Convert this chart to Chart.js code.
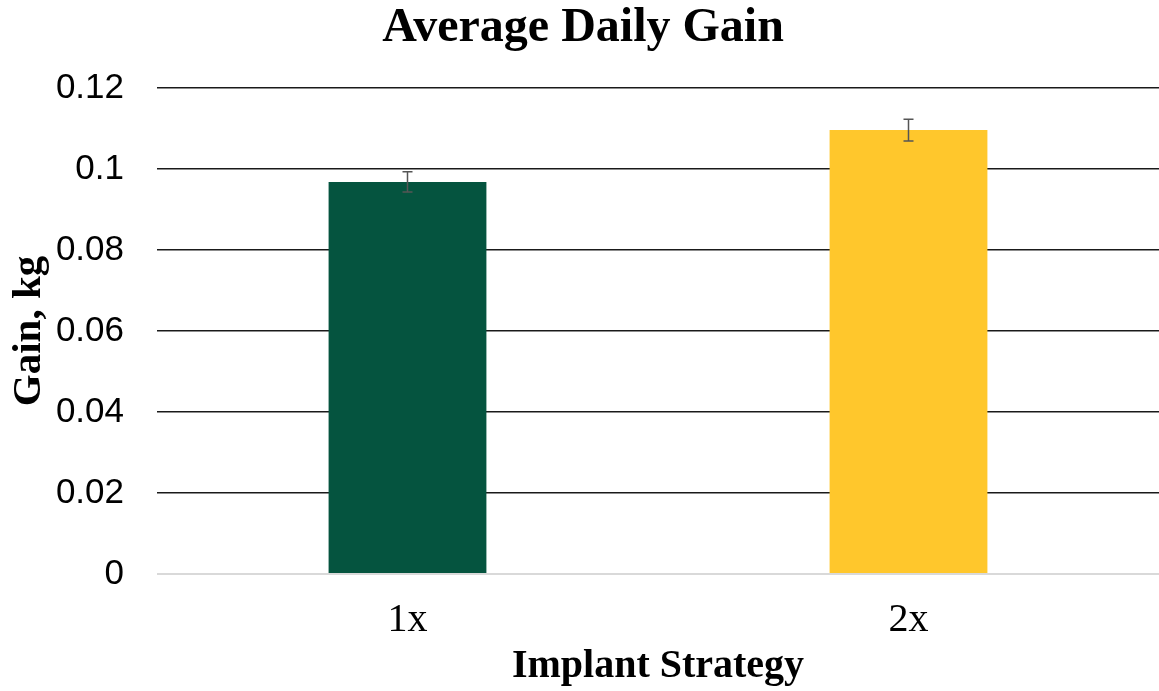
<!DOCTYPE html>
<html>
<head>
<meta charset="utf-8">
<script src="https://cdn.jsdelivr.net/npm/chart.js@4/dist/chart.umd.min.js"></script>
<style>
  html, body { margin: 0; padding: 0; background: #fff; }
  #wrap { width: 1159px; height: 691px; }
</style>
</head>
<body>
<div id="wrap"><canvas id="c" width="1159" height="691"></canvas></div>
<script>
const categories = ["1x", "2x"];
const gainValues = [0.0968, 0.1096];
const gainErrors = [0.0025, 0.0027];
const barColors = ["#05543F", "#FFC72C"];
const yTickLabels = ["0", "0.02", "0.04", "0.06", "0.08", "0.1", "0.12"];
const chartTitle = "Average Daily Gain";
const xTitle = "Implant Strategy";
const yTitle = "Gain, kg";

const errorBarPlugin = {
  id: "errorBars",
  afterDatasetsDraw(chart) {
    const ctx = chart.ctx;
    const meta = chart.getDatasetMeta(0);
    const yScale = chart.scales.y;
    ctx.save();
    ctx.strokeStyle = "#555555";
    ctx.lineWidth = 1.5;
    meta.data.forEach((bar, i) => {
      const v = gainValues[i], e = gainErrors[i];
      const yTop = yScale.getPixelForValue(v + e);
      const yBot = yScale.getPixelForValue(v - e);
      const x = bar.x;
      ctx.beginPath();
      ctx.moveTo(x, yTop); ctx.lineTo(x, yBot);
      ctx.moveTo(x - 5, yTop); ctx.lineTo(x + 5, yTop);
      ctx.moveTo(x - 5, yBot); ctx.lineTo(x + 5, yBot);
      ctx.stroke();
    });
    ctx.restore();
  }
};

new Chart(document.getElementById("c"), {
  type: "bar",
  data: {
    labels: categories,
    datasets: [{
      data: gainValues,
      backgroundColor: barColors,
      borderWidth: 0,
      barPercentage: 0.315,
      categoryPercentage: 1.0
    }]
  },
  options: {
    responsive: false,
    animation: false,
    layout: { padding: { left: 0, top: 0, bottom: 0, right: -7 } },
    plugins: {
      legend: { display: false },
      tooltip: { enabled: false },
      title: {
        display: true,
        text: chartTitle,
        color: "#000",
        font: { family: "'Liberation Serif', 'Times New Roman', serif", size: 48, weight: "bold" },
        padding: { top: 0, bottom: 30.4 }
      }
    },
    scales: {
      x: {
        grid: { display: false, drawTicks: false },
        border: { display: false },
        ticks: {
          color: "#000",
          padding: 22,
          font: { family: "'Liberation Serif', 'Times New Roman', serif", size: 40 }
        },
        title: {
          display: true,
          text: xTitle,
          color: "#000",
          font: { family: "'Liberation Serif', 'Times New Roman', serif", size: 40, weight: "bold" },
          padding: { top: 0, bottom: 0 }
        },
        afterFit(scale) { scale.height = 117; }
      },
      y: {
        min: 0,
        max: 0.12,
        grid: {
          drawTicks: false,
          color: (c) => (c.tick && c.tick.value === 0 ? "#d9d9d9" : "#1a1a1a"),
          lineWidth: (c) => (c.tick && c.tick.value === 0 ? 2 : 1.5)
        },
        border: { display: false },
        ticks: {
          stepSize: 0.02,
          color: "#000",
          padding: 33,
          font: { family: "'Liberation Sans', Arial, sans-serif", size: 35 },
          callback: (value, index) => yTickLabels[index]
        },
        title: {
          display: true,
          text: yTitle,
          color: "#000",
          font: { family: "'Liberation Serif', 'Times New Roman', serif", size: 41, weight: "bold" },
          padding: { top: 5, bottom: 0 }
        },
        afterFit(scale) { scale.width = 157; }
      }
    }
  },
  plugins: [errorBarPlugin]
});
</script>
</body>
</html>
